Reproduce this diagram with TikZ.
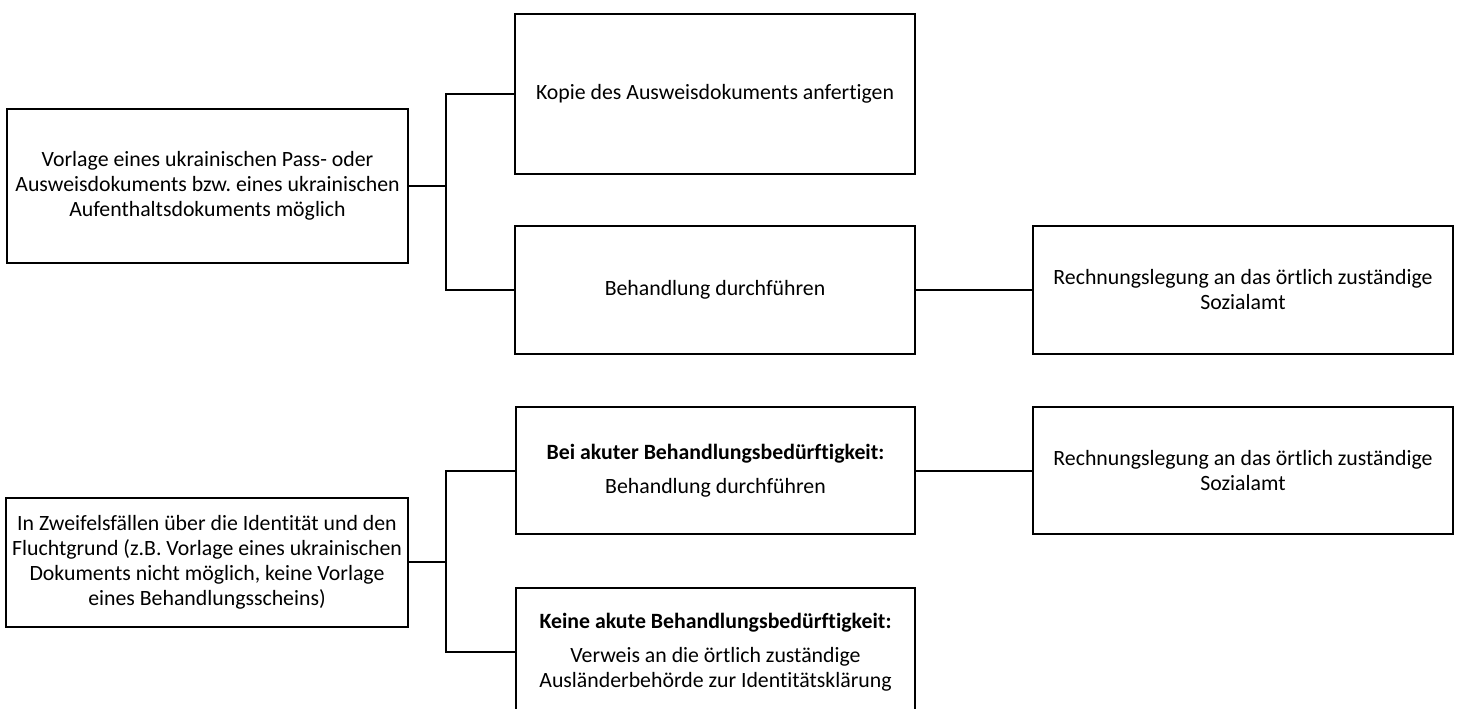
\documentclass[tikz,border=0pt]{standalone}
\usepackage{fontspec}
\setmainfont{Carlito}[Ligatures=NoCommon]
\frenchspacing
\tikzset{
  box/.style={draw, line width=1pt, align=center, inner sep=0pt, font=\fontsize{10.9}{12.5}\selectfont},
  link/.style={line width=1pt}
}

\begin{document}
\begin{tikzpicture}[x=0.5pt, y=-0.5pt]
		\useasboundingbox (0,0) rectangle (1473,708);
		\clip (0,0) rectangle (1473,708);
		\node (vorlage) [box, minimum width=200.5pt, minimum height=77pt] at (207.5,186)
		{Vorlage eines ukrainischen Pass- oder\\ Ausweisdokuments bzw. eines ukrainischen\\ Aufenthaltsdokuments möglich};
		\node (kopie) [box, minimum width=200pt, minimum height=80pt] at (715,94)
		{Kopie des Ausweisdokuments anfertigen};
		\node (behandlung) [box, minimum width=200pt, minimum height=64pt] at (715,290)
		{Behandlung durchführen};
		\node (rechnung1) [box, minimum width=210pt, minimum height=64pt] at (1243,290)
		{Rechnungslegung an das örtlich zuständige\\ Sozialamt};
		\node (zweifel) [box, minimum width=201pt, minimum height=64.5pt] at (207,562)
		{In Zweifelsfällen über die Identität und den\\ Fluchtgrund (z.B. Vorlage eines ukrainischen\\ Dokuments nicht möglich, keine Vorlage\\ eines Behandlungsscheins)};
		\node (akut) [box, minimum width=199.5pt, minimum height=63.5pt] at (715.5,470.5)
		{\textbf{Bei akuter Behandlungsbedürftigkeit:}\\[4.5pt] Behandlung durchführen};
		\node (rechnung2) [box, minimum width=210pt, minimum height=63.5pt] at (1243,470.5)
		{Rechnungslegung an das örtlich zuständige\\ Sozialamt};
		\node (keine) [box, minimum width=199.5pt, minimum height=64pt] at (715.5,652)
		{\textbf{Keine akute Behandlungsbedürftigkeit:}\\[4.5pt] Verweis an die örtlich zuständige\\ Ausländerbehörde zur Identitätsklärung};
		\coordinate (j1) at (446,186);
		\coordinate (j2) at (446,562);
		\draw [link] (vorlage.east) -- (j1);
		\draw [link] (kopie.west) -| (j1) |- (behandlung.west);
		\draw [link] (behandlung.east) -- (rechnung1.west);
		\draw [link] (zweifel.east) -- (j2);
		\draw [link] (akut.west) -| (j2) |- (keine.west);
		\draw [link] (akut.east) -- (rechnung2.west);
		\end{tikzpicture}
\end{document}
